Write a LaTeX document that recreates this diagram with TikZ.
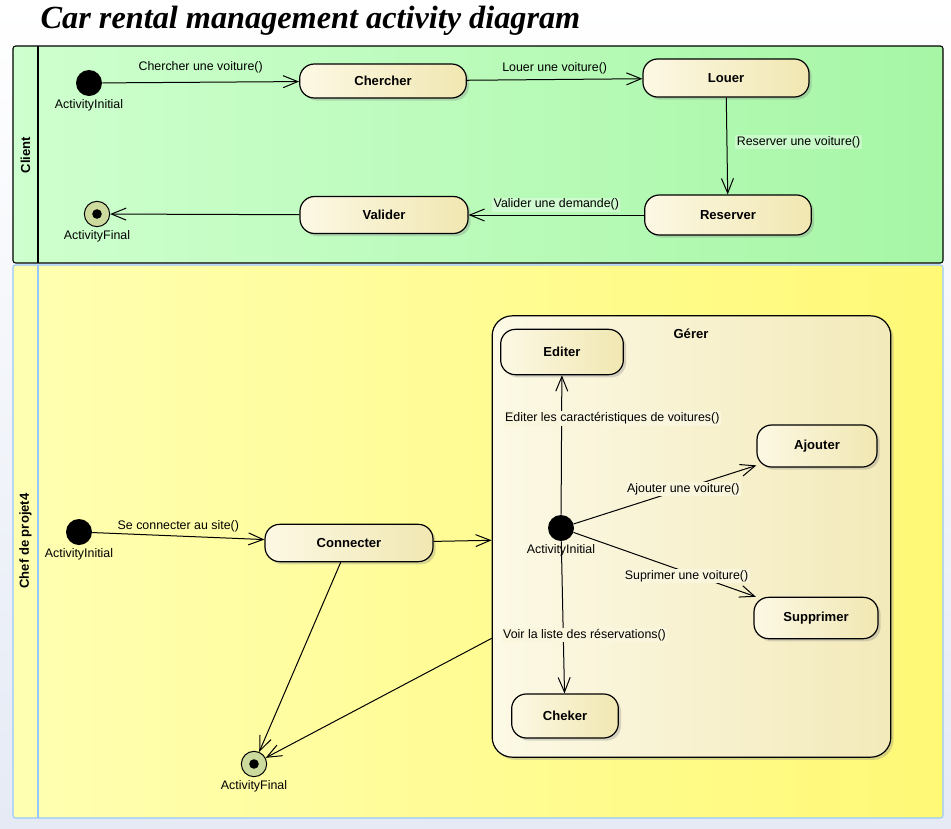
\documentclass[tikz,border=0pt]{standalone}
\usepackage{fontspec}
\newfontfamily\umlsans{Liberation Sans}
\newfontfamily\titleserif{Liberation Serif}
\usetikzlibrary{arrows.meta,shadows}
\definecolor{pagebot}{RGB}{229,234,245}
\definecolor{clientA}{RGB}{206,255,206}
\definecolor{clientB}{RGB}{166,246,166}
\definecolor{chefA}{RGB}{255,255,178}
\definecolor{chefB}{RGB}{255,249,118}
\definecolor{chefline}{RGB}{150,200,255}
\definecolor{actA}{RGB}{252,248,228}
\definecolor{actB}{RGB}{241,231,178}
\definecolor{gerA}{RGB}{252,249,230}
\definecolor{gerB}{RGB}{243,234,186}
\definecolor{gerbg}{RGB}{250,246,222}
\definecolor{finalgreen}{RGB}{204,218,158}
\begin{document}
\begin{tikzpicture}[x=.75pt,y=-.75pt,
  every node/.style={font=\umlsans\fontsize{9.3}{11}\selectfont},
  action/.style={draw,line width=.9pt,rounded corners=11pt,left color=actA,right color=actB,
    font=\umlsans\bfseries\fontsize{9.8}{11}\selectfont,
    drop shadow={shadow xshift=2pt,shadow yshift=-2pt,opacity=.3}},
  initial/.style={circle,fill=black,minimum size=19.5pt,inner sep=0pt},
  final/.style={circle,draw,line width=.75pt,fill=finalgreen,minimum size=19pt,inner sep=0pt,
    path picture={\fill[black] (path picture bounding box.center) circle (3.6pt);}},
  flow/.style={draw,line width=.75pt,-{Straight Barb[length=11pt,width=9pt]}},
  tag/.style={fill=gerbg,inner sep=1pt}]
  \fill[top color=white,bottom color=pagebot] (0,0) rectangle (951,829);
  \node[anchor=base west,font=\titleserif\bfseries\itshape\fontsize{24.2}{28}\selectfont] (title) at (36,28)
  {Car rental management activity diagram};
  \draw[line width=.8pt,rounded corners=2pt,left color=clientA,right color=clientB] (13,46) rectangle (943,263);
  \draw[line width=.8pt] (38,46)--(38,263);
  \draw[chefline,line width=.8pt,rounded corners=2pt,left color=chefA,right color=chefB] (13,265) rectangle (943,818);
  \draw[chefline,line width=.8pt] (38,265)--(38,818);
  \node[rotate=90,font=\umlsans\bfseries\fontsize{9.8}{11}\selectfont] (client) at (25.5,155) {Client};
  \node[rotate=90,font=\umlsans\bfseries\fontsize{9.8}{11}\selectfont] (chef) at (25.5,541) {Chef de projet4};

  \node[initial,label={[label distance=-1pt]below:ActivityInitial}] (ini1) at (89,83) {};
  \node[action,minimum width=125pt,minimum height=25.5pt] (chercher) at (383,81) {Chercher};
  \node[action,minimum width=124.5pt,minimum height=28.5pt] (louer) at (726,78) {Louer};
  \node[action,minimum width=125pt,minimum height=30pt] (reserver) at (728,215) {Reserver};
  \node[action,minimum width=126pt,minimum height=27.75pt] (valider) at (384,215) {Valider};
  \node[final,label={[label distance=-1pt]below:ActivityFinal}] (fin1) at (97,214) {};
  \draw[flow] (ini1) -- node[above,yshift=3pt] {Chercher une voiture()} (chercher);
  \draw[flow] (chercher) -- node[above=0pt] {Louer une voiture()} (louer);
  \draw[flow] (louer) -- node[right=6pt,fill=white,fill opacity=.35,text opacity=1,inner sep=1pt,yshift=3pt] {Reserver une voiture()} (reserver);
  \draw[flow] (reserver) -- node[above,fill=white,fill opacity=.35,text opacity=1,inner sep=1pt,yshift=2pt] {Valider une demande()} (valider);
  \draw[flow] (valider) -- (fin1);

  \node[draw,line width=.9pt,rounded corners=15pt,left color=gerA,right color=gerB,minimum width=299pt,minimum height=331pt,
    drop shadow={shadow xshift=2pt,shadow yshift=-2pt,opacity=.3}] (gerer) at (691.5,536.5) {};
  \node[font=\umlsans\bfseries\fontsize{9.8}{11}\selectfont] (gererlbl) at (691,334) {Gérer};
  \node[initial,label={[label distance=-1pt]below:ActivityInitial}] (ini2) at (79,532) {};
  \node[action,minimum width=126pt,minimum height=28pt] (connecter) at (349,543) {Connecter};
  \node[final,label={[label distance=-1pt]below:ActivityFinal}] (fin2) at (254,764) {};
  \node[initial,label={[label distance=-1pt]below:ActivityInitial}] (ini3) at (561,528) {};
  \node[action,minimum width=92pt,minimum height=34pt] (editer) at (562,352) {Editer};
  \node[action,minimum width=90pt,minimum height=31.5pt] (ajouter) at (817,446) {Ajouter};
  \node[action,minimum width=93pt,minimum height=31pt] (supprimer) at (816,618) {Supprimer};
  \node[action,minimum width=80pt,minimum height=33pt] (cheker) at (565,716) {Cheker};
  \draw[flow] (ini2) -- node[above,yshift=-1pt] {Se connecter au site()} (connecter);
  \draw[flow] (connecter) -- (gerer);
  \draw[flow] (connecter) -- (fin2);
  \draw[flow] (gerer.207) -- (fin2);
  \draw[flow] (ini3) -- node[tag,pos=.72,xshift=38pt,yshift=-3pt] {Editer les caractéristiques de voitures()} (editer);
  \draw[flow] (ini3) -- node[tag,pos=.6] {Ajouter une voiture()} (ajouter);
  \draw[flow] (ini3) -- node[tag,pos=.62,yshift=-3pt] {Suprimer une voiture()} (supprimer);
  \draw[flow] (ini3) -- node[tag,pos=.6,xshift=16pt,yshift=-2pt] {Voir la liste des réservations()} (cheker);
\end{tikzpicture}
\end{document}
